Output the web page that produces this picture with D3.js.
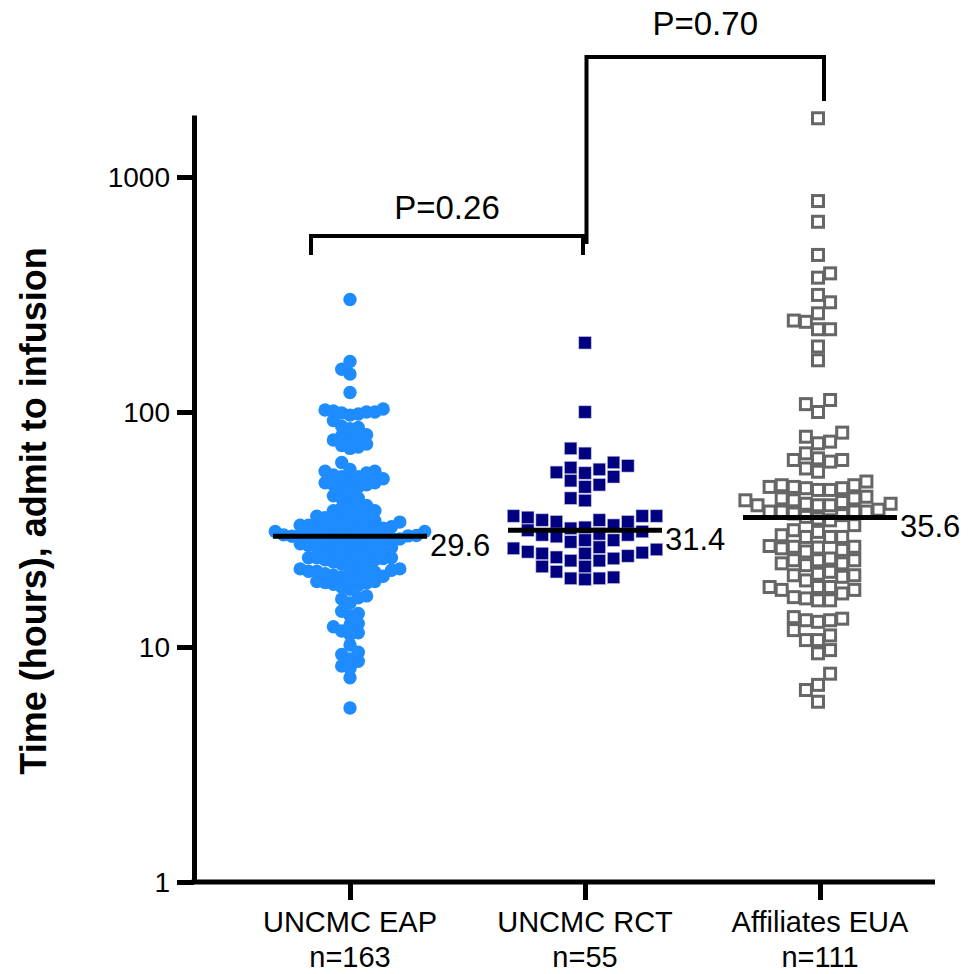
<!DOCTYPE html>
<html><head><meta charset="utf-8">
<script src="https://cdn.jsdelivr.net/npm/d3@7"></script>
<style>
body{margin:0;background:#fff}
svg{display:block}
text{font-family:"Liberation Sans",Arial,Helvetica,sans-serif;fill:#000}
</style>
</head><body>
<svg id="chart" width="979" height="974"></svg>
<script>
// ---------------- data ----------------
const categories = ["UNCMC EAP", "UNCMC RCT", "Affiliates EUA"];
const groupSizes = ["n=163", "n=55", "n=111"];
const medians = [29.6, 31.4, 35.6];
const yTicks = [1, 10, 100, 1000];
const yMax = 1836;
const comparisons = [
  {from: 0, to: 1, label: "P=0.26"},
  {from: 1, to: 2, label: "P=0.70"}
];
const eapValues = [301, 164, 152, 145, 121,
  103, 102, 101, 100, 100, 99, 98, 97, 92,
  87, 86, 85, 80, 79, 78, 77, 76, 73, 72, 71, 70, 61,
  57, 56, 56, 55, 54, 53, 53, 52, 52, 50, 50, 49, 49, 48, 48, 47,
  44, 43, 43, 42, 40, 39, 39, 38, 38,
  37, 36, 36, 35.5, 35, 35, 34.5, 34, 34,
  33.5, 33, 33, 33, 32.5, 32.5, 32, 32, 32, 31.5, 31.5, 31, 31, 30.5, 30.5,
  30, 30, 30, 29.8, 29.7, 29.6, 29.5, 29.4, 29.3, 29, 29, 28.8, 28.7, 28.5, 28.5,
  28, 28, 27.5, 27.5, 27, 27, 26.8, 26.5, 26.5, 26, 26, 25.8, 25.5, 25.5, 25,
  24.5, 24.5, 24, 24, 24, 23.8, 23.5, 23.5, 23, 23, 22.8, 22.5, 22.5,
  21.5, 21.5, 21.2, 21, 21, 21, 20.8, 20.5, 20.5, 20.2, 20, 20, 19.8,
  19.3, 19, 19, 18.8, 18.7, 18.5, 18.3, 18,
  17.6, 16.5, 16.2, 16, 15.4, 14.2, 13.9, 13.6, 12.6, 12.4, 12.2, 11.7, 11.5, 11.3,
  10.2, 9.5, 9.3, 8.9, 8.7, 8.3, 8.1, 7.4, 5.5];
const rctValues = [197, 100, 70, 66.7, 61, 59, 58, 57, 55.4, 55, 53, 51, 49, 48, 43, 42,
  36.1, 36.1, 36.1, 35.6, 34.7, 34.7, 34.1, 34.1, 33, 32.3, 32, 31.4, 31, 30.3, 30, 30,
  29.5, 28.5, 28.5, 28, 26.6, 26.3, 26, 25.4, 25.2, 25, 25, 24.4, 24.1, 23.8, 23.3, 23.3,
  22, 22, 20.9, 19.8, 19.6, 19.6, 19.4];
const euaValues = [1778, 790, 645, 466, 389, 373, 315, 293, 263, 245, 242, 225, 225, 190, 166,
  112.5, 108, 100, 81.7, 78.5, 74.8, 73.6, 66.7, 63.5, 62.5, 62.5, 61.5, 57.5, 55.7,
  50.6, 48.8, 48.8, 48, 48, 47.4, 47.4, 46.6, 46.6,
  43.6, 42.9, 42.9, 42.1, 42.1, 41.4, 40.7, 40.7, 40.1, 40.1, 40.1,
  38.4, 37.7, 37.7, 37.7, 37.7, 37.0, 36.4, 35.8, 35.2, 34.6,
  33.0, 31.4, 30.9, 29.9, 29.4, 29.4, 29.4,
  26.9, 26.7, 26.7, 26.5, 26.3, 25.9, 25.5,
  23.8, 23.4, 23.4, 23.4, 22.7, 22.7, 22.3,
  20.9, 20.5, 20.2, 20.2, 19.9, 19.2,
  18.0, 18.0, 18.0, 17.5, 17.5,
  16.9, 16.3, 16.1, 15.8, 15.8,
  13.4, 13.2, 13.0, 13.0, 12.8,
  11.8, 11.2, 10.7, 10.7, 9.7, 9.4,
  7.7, 6.9, 6.56, 5.85];

// ---------------- chart ----------------
const svg = d3.select("#chart");
const y = d3.scaleLog().domain([1, yMax]).range([882, 115]);
const x = d3.scalePoint().domain(categories).range([350, 820]);

// swarm layout: columns spaced by `step`, points in the same column at least `gap` apart
function swarm(vals, step, gap) {
  const pts = vals.map(v => ({v, y: y(v)})).sort((a, b) => b.y - a.y);
  const placed = [];
  let left = 0, right = 0, flip = false;
  pts.forEach(p => {
    const free = k => !placed.some(q => q.k === k && Math.abs(q.y - p.y) < gap);
    let k = null;
    if (free(0)) k = 0;
    for (let m = 1; k === null; m++) {
      const fr = free(m), fl = free(-m);
      if (fr && fl) {
        if (left < right) k = -m; else if (right < left) k = m; else { k = flip ? m : -m; flip = !flip; }
      } else if (fr) k = m; else if (fl) k = -m;
    }
    if (k < 0) left++; else if (k > 0) right++;
    p.k = k; p.dx = k * step;
    placed.push(p);
  });
  return placed;
}

// EAP circles
const eap = swarm(eapValues, 8.3, 8.6);
svg.append("g").selectAll("circle").data(eap).join("circle")
  .attr("cx", d => x(categories[0]) + d.dx).attr("cy", d => d.y)
  .attr("r", 6.7).attr("fill", "#1E8CFF");

// RCT filled squares
const rct = swarm(rctValues, 14.3, 12.6);
const sR = 12.4;
svg.append("g").selectAll("rect").data(rct).join("rect")
  .attr("x", d => x(categories[1]) + d.dx - sR / 2).attr("y", d => d.y - sR / 2)
  .attr("width", sR).attr("height", sR)
  .attr("fill", "#000080").attr("stroke", "#b8b8d8").attr("stroke-width", 0.6);

// EUA open squares
const eua = swarm(euaValues, 12.1, 12.6);
const sE = 11;
svg.append("g").selectAll("rect").data(eua).join("rect")
  .attr("x", d => x(categories[2]) + d.dx - 2 - sE / 2).attr("y", d => d.y - sE / 2)
  .attr("width", sE).attr("height", sE)
  .attr("fill", "#fff").attr("stroke", "#666").attr("stroke-width", 3);

// median lines + labels
const medG = svg.append("g");
categories.forEach((c, i) => {
  medG.append("line").attr("x1", x(c) - 77).attr("x2", x(c) + 77)
    .attr("y1", y(medians[i])).attr("y2", y(medians[i]))
    .attr("stroke", "#000").attr("stroke-width", 5);
  medG.append("text").attr("x", x(c) + 80).attr("y", y(medians[i]) + 20)
    .attr("font-size", 31).text(medians[i].toFixed(1));
});

// y axis
const yAxis = svg.append("g").attr("transform", "translate(194,0)")
  .call(d3.axisLeft(y).tickValues(yTicks).tickFormat(d3.format("d"))
    .tickSize(17).tickSizeOuter(0).tickPadding(7));
yAxis.select(".domain").attr("stroke-width", 5);
yAxis.selectAll(".tick line").attr("stroke-width", 5);
yAxis.selectAll(".tick text").attr("font-size", 28).attr("font-family", "Liberation Sans, Arial, sans-serif").attr("dy", "0.35em");

// x axis
svg.append("line").attr("x1", 191.5).attr("x2", 935).attr("y1", 882).attr("y2", 882)
  .attr("stroke", "#000").attr("stroke-width", 5);
const xAxis = svg.append("g").attr("transform", "translate(0,882)")
  .call(d3.axisBottom(x).tickSize(18).tickFormat(""));
xAxis.select(".domain").remove();
xAxis.selectAll(".tick line").attr("stroke-width", 5);
categories.forEach((c, i) => {
  svg.append("text").attr("x", x(c)).attr("y", 932).attr("text-anchor", "middle")
    .attr("font-size", 29).text(c);
  svg.append("text").attr("x", x(c)).attr("y", 967).attr("text-anchor", "middle")
    .attr("font-size", 29).text(groupSizes[i]);
});

// y title
svg.append("text").attr("transform", "translate(46,511) rotate(-90)")
  .attr("text-anchor", "middle").attr("font-size", 36).attr("font-weight", "bold")
  .text("Time (hours), admit to infusion");

// significance brackets
const brackets = [
  {x1: x(categories[0]) - 39, x2: x(categories[1]) - 2, yb: 236, y1: 255, y2: 255, ty: 219},
  {x1: x(categories[1]) + 1.5, x2: x(categories[2]) + 4, yb: 57, y1: 244, y2: 101, ty: 35}
];
comparisons.forEach((cmp, i) => {
  const b = brackets[i];
  svg.append("path")
    .attr("d", `M${b.x1},${b.y1}V${b.yb}H${b.x2}V${b.y2}`)
    .attr("fill", "none").attr("stroke", "#000").attr("stroke-width", 4);
  svg.append("text").attr("x", (b.x1 + b.x2) / 2).attr("y", b.ty)
    .attr("text-anchor", "middle").attr("font-size", 33).text(cmp.label);
});
</script>
</body></html>
